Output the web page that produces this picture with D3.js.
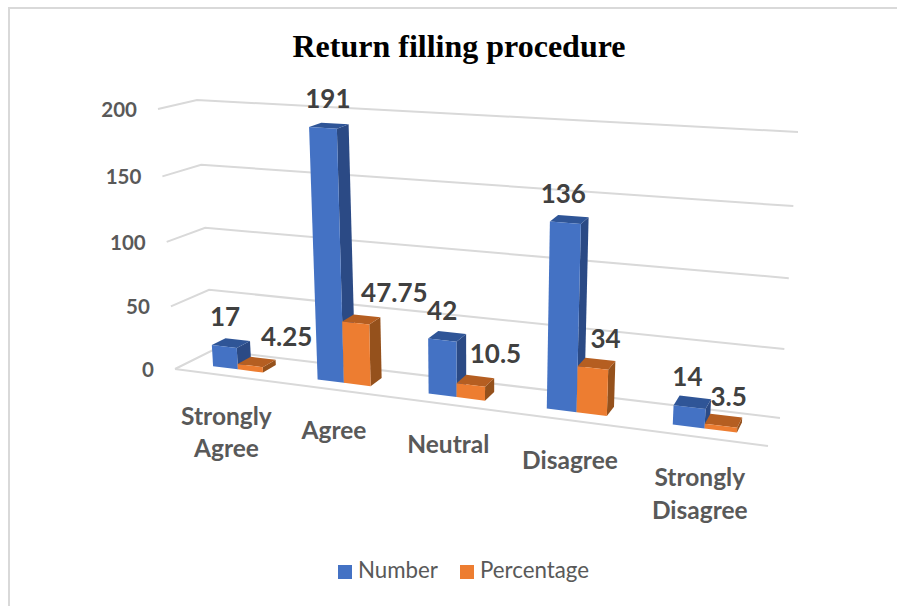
<!DOCTYPE html>
<html><head><meta charset="utf-8">
<script src="https://cdnjs.cloudflare.com/ajax/libs/d3/7.8.5/d3.min.js"></script>
<style>html,body{margin:0;padding:0;background:#fff}svg{display:block}</style></head>
<body><svg id="c" width="897" height="606"></svg>
<script>
const title = "Return filling procedure";
const categories = ["Strongly Agree","Agree","Neutral","Disagree","Strongly Disagree"];
const seriesNames = ["Number","Percentage"];
const numberValues = [17,191,42,136,14];
const percentageValues = [4.25,47.75,10.5,34,3.5];
const tickValues = [0,50,100,150,200];

// layout, kept apart from the data
const colors = {front:["#4472c4","#ed7d31"],top:["#2f5597","#b55e21"],side:["#2b4a85","#95511c"]};
const labelNudge = [[[-6,-5],[-1,-6],[-5,-4],[-6,-4],[-5,-4]],[[30,-4],[33,-5],[20,-6],[9,-4],[5,-3]]];
const corners = {flb:[175,369],flt:[158,109],blb:[213,350],blt:[197,100],
                 brb:[780,418],brt:[798,132],frb:[768,446],frt:[786,150]};
const persp = 1.17, depth0 = .32, depth1 = .69;

const svg = d3.select("#c");
const L = (a,b,t)=>[a[0]+(b[0]-a[0])*t,a[1]+(b[1]-a[1])*t];
const warp = u => u/(u+persp*(1-u));
const h = d3.scaleLinear().domain(tickValues).range([0,.241,.489,.741,1]);
const P = (u,v,val)=>{
  const s=warp(u), t=h(val), c=corners;
  const bl=L(L(c.flb,c.frb,s),L(c.blb,c.brb,s),v);
  const tl=L(L(c.flt,c.frt,s),L(c.blt,c.brt,s),v);
  return L(bl,tl,t);
};
const x0 = d3.scaleBand().domain(categories).range([0,1]).paddingInner(.515).paddingOuter(.2575);
const x1 = d3.scaleBand().domain(seriesNames).range([0,x0.bandwidth()]);

// frame
svg.append("path").attr("d","M9,606V8H897").attr("fill","none").attr("stroke","#d9d9d9").attr("stroke-width",2);

// gridlines
const line = d3.line();
svg.append("g").selectAll("path").data(tickValues).join("path")
  .attr("d",d=>line([P(0,0,d),P(0,1,d),P(1,1,d)]))
  .attr("fill","none").attr("stroke","#d9d9d9").attr("stroke-width",2);
svg.append("path").attr("d",line([P(0,0,0),P(1,0,0)])).attr("fill","none").attr("stroke","#d9d9d9").attr("stroke-width",2);

// bars
const poly = pts => line(pts)+"Z";
const rows = [numberValues,percentageValues];
categories.forEach((cat,i)=>{
  seriesNames.forEach((s,k)=>{
    const val = rows[k][i], a=x0(cat)+x1(s), b=a+x1.bandwidth();
    const g = svg.append("g");
    g.append("path").attr("d",poly([P(b,depth0,0),P(b,depth1,0),P(b,depth1,val),P(b,depth0,val)])).attr("fill",colors.side[k]);
    g.append("path").attr("d",poly([P(a,depth0,val),P(b,depth0,val),P(b,depth1,val),P(a,depth1,val)])).attr("fill",colors.top[k]);
    g.append("path").attr("d",poly([P(a,depth0,0),P(b,depth0,0),P(b,depth0,val),P(a,depth0,val)])).attr("fill",colors.front[k]);
  });
});

// value labels
const labelFont = "Lato, Carlito, sans-serif";
categories.forEach((cat,i)=>{
  seriesNames.forEach((s,k)=>{
    const val = rows[k][i], c=x0(cat)+x1(s)+x1.bandwidth()/2;
    const p = P(c,(depth0+depth1)/2,val), n=labelNudge[k][i];
    svg.append("text").attr("x",p[0]+n[0]).attr("y",p[1]+n[1]-22)
      .attr("text-anchor","middle").attr("dominant-baseline","central")
      .attr("font-family",labelFont).attr("font-weight",700).attr("font-size",26).attr("fill","#404040").text(val);
  });
});

// value axis labels
svg.append("g").selectAll("text").data(tickValues).join("text")
  .attr("x",d=>P(0,0,d)[0]-21).attr("y",d=>P(0,0,d)[1])
  .attr("text-anchor","end").attr("dominant-baseline","central")
  .attr("font-family",labelFont).attr("font-weight",700).attr("font-size",20.5).attr("fill","#595959").text(d=>d);

// category labels
categories.forEach(cat=>{
  const p = P(x0(cat)+x0.bandwidth()/2,0,0);
  const parts = cat.split(" ");
  parts.forEach((w,j)=>{
    svg.append("text").attr("x",p[0]).attr("y",p[1]+39.5+j*32.5)
      .attr("text-anchor","middle").attr("dominant-baseline","central")
      .attr("font-family",labelFont).attr("font-weight",700).attr("font-size",24.5).attr("fill","#595959").text(w);
  });
});

// title
svg.append("text").attr("x",459).attr("y",46).attr("text-anchor","middle").attr("dominant-baseline","central")
  .attr("font-family","'Liberation Serif',serif").attr("font-weight",700).attr("font-size",32).attr("fill","#000").text(title);

// legend
const legendX = d3.scaleOrdinal().domain(seriesNames).range([338,460]);
seriesNames.forEach((s,k)=>{
  svg.append("rect").attr("x",legendX(s)).attr("y",565).attr("width",14).attr("height",14).attr("fill",colors.front[k]);
  svg.append("text").attr("x",legendX(s)+20).attr("y",569.5).attr("dominant-baseline","central")
    .attr("font-family",labelFont).attr("font-size",22.3).attr("fill","#595959").text(s);
});
</script></body></html>
